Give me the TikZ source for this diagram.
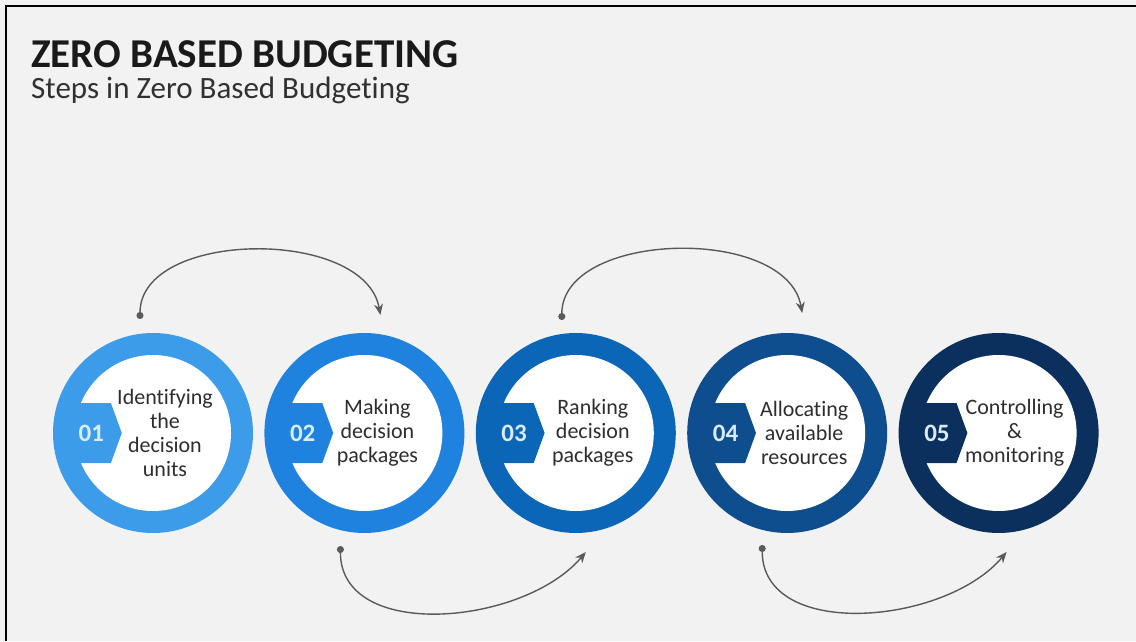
\documentclass[tikz,border=0pt]{standalone}
\usepackage{fontspec}
\setmainfont{Carlito}[Ligatures=NoCommon]
\usetikzlibrary{arrows.meta, positioning, shapes.symbols}
\definecolor{paper}{HTML}{F2F2F2}
\definecolor{ink}{HTML}{1A1A1A}
\definecolor{bodytext}{HTML}{2E2E2E}
\definecolor{linkgray}{HTML}{5A5A5A}
\definecolor{numtext}{HTML}{D8ECFB}
\definecolor{stepone}{HTML}{3D9CEA}
\definecolor{steptwo}{HTML}{1F82DE}
\definecolor{stepthree}{HTML}{0C66B8}
\definecolor{stepfour}{HTML}{0E4E8E}
\definecolor{stepfive}{HTML}{0B305E}

\begin{document}
\begin{tikzpicture}[
    x=1pt, y=1pt,
    node distance=11pt,
    ring/.style={
        circle,
        minimum size=200pt,
        inner sep=0pt
    },
    hole/.style={
        circle,
        fill=white,
        minimum size=156pt,
        inner sep=0pt
    },
    tab/.style={
        signal,
        signal to=east,
        signal pointer angle=140,
        minimum width=50pt,
        minimum height=60pt,
        inner sep=0pt,
        text=numtext,
        font=\bfseries\fontsize{25}{25}\selectfont
    },
    steptext/.style={
        align=center,
        text=bodytext,
        font=\fontsize{22}{24}\selectfont
    },
    link/.style={{Circle[length=7pt]}-{Stealth[length=11pt, width=9pt]}, line width=1.4pt, draw=linkgray}
]

% page and frame
\fill[paper] (0,0) rectangle (1136,641);
\useasboundingbox (0,0) rectangle (1136,641);
\draw[line width=2.5pt] (6,0) -- (6,635) -- (1136,635);

\node[anchor=base west, inner sep=0pt, text=ink, font=\bfseries\fontsize{41}{46}\selectfont] (title) at (31,573) {ZERO BASED BUDGETING};
\node[anchor=base west, inner sep=0pt, text=ink!90, font=\fontsize{31}{36}\selectfont] (subtitle) at (31,542) {Steps in Zero Based Budgeting};

% RINGS
\node[ring, fill=stepone] (c1) at (153,208) {};
\node[ring, fill=steptwo, right=of c1] (c2) {};
\node[ring, fill=stepthree, right=of c2] (c3) {};
\node[ring, fill=stepfour, right=of c3] (c4) {};
\node[ring, fill=stepfive, right=of c4] (c5) {};

\node[hole] (w1) at (c1) {};
\node[hole] (w2) at (c2) {};
\node[hole] (w3) at (c3) {};
\node[hole] (w4) at (c4) {};
\node[hole] (w5) at (c5) {};

% number tabs (left end hidden in the ring)
\node[tab, fill=stepone, anchor=east] (n1) at ([xshift=-31pt]c1.center) {01};
\node[tab, fill=steptwo, anchor=east] (n2) at ([xshift=-31pt]c2.center) {02};
\node[tab, fill=stepthree, anchor=east] (n3) at ([xshift=-31pt]c3.center) {03};
\node[tab, fill=stepfour, anchor=east] (n4) at ([xshift=-31pt]c4.center) {04};
\node[tab, fill=stepfive, anchor=east] (n5) at ([xshift=-31pt]c5.center) {05};

\node[steptext] (l1) at ([xshift=12pt]c1.center) {Identifying\\the\\decision\\units};
\node[steptext] (l2) at ([xshift=13pt]c2.center) {Making\\decision\\packages};
\node[steptext] (l3) at ([xshift=17pt]c3.center) {Ranking\\decision\\packages};
\node[steptext] (l4) at ([xshift=17pt]c4.center) {Allocating\\available\\resources};
\node[steptext] (l5) at ([xshift=16pt]c5.center) {Controlling\\\&\\monitoring};

% ARROWS
\coordinate (a1) at ([shift={(-13,114)}]c1.center);
\coordinate (b2) at ([shift={(16,118)}]c2.center);
\coordinate (a3) at ([shift={(-14,113)}]c3.center);
\coordinate (b4) at ([shift={(15,120)}]c4.center);
\coordinate (a2) at ([shift={(-24,-113)}]c2.center);
\coordinate (b3) at ([shift={(10,-119)}]c3.center);
\coordinate (a4) at ([shift={(-25,-112)}]c4.center);
\coordinate (b5) at ([shift={(8,-119)}]c5.center);

\draw[link] (a1) to[out=90, in=100, looseness=0.95] (b2);
\draw[link] (a3) to[out=90, in=100, looseness=0.95] (b4);
\draw[link] (a2) to[out=-90, in=-130] (b3);
\draw[link] (a4) to[out=-90, in=-130] (b5);

\end{tikzpicture}
\end{document}
